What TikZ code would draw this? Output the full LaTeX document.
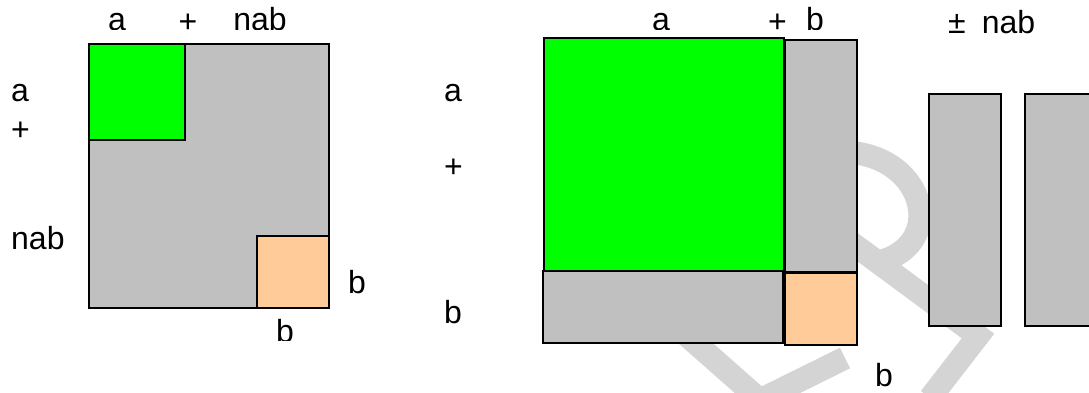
\documentclass[tikz,border=0pt]{standalone}
\usepackage{fontspec}
\setmainfont{Liberation Sans}
\definecolor{sqgreen}{HTML}{00FF00}
\definecolor{sqgray}{HTML}{C0C0C0}
\definecolor{sqorange}{HTML}{FFCC99}
\definecolor{wmgray}{HTML}{D4D4D4}
\tikzset{
  lbl/.style={font=\fontsize{32}{38}\selectfont, inner sep=0pt, anchor=base},
  lblw/.style={lbl, anchor=base west},
  piece/.style={draw=black, line width=2pt},
  wm/.style={draw=wmgray, line width=23pt},
}
\begin{document}
\begin{tikzpicture}[x=1pt,y=-1pt]
\useasboundingbox (0,0) rectangle (1089,392);
\clip (0,0) rectangle (1089,392);
% watermark
\draw[wm] (835,152) .. controls (925,148) and (950,245) .. (878,262);
\draw[wm, line join=miter] (845,238) -- (978,336) -- (930,398);
\draw[wm, line join=miter] (675,325) -- (760,400) -- (845,358);

% ---------- left figure ----------
\fill[sqgray] (89,44) rectangle (329,308);
\draw[line width=1.2pt] (89,44) rectangle (329,308);
\draw[line width=2pt] (329,44) -- (329,308) -- (89,308);
\draw[line width=2pt] (89,44) -- (89,62) (89,302) -- (89,308);
\draw[piece, fill=sqgreen] (89,44) rectangle (185,140);
\draw[piece, fill=sqorange] (257,236) rectangle (329,308);

\begin{scope}
\clip (0,0) rectangle (1089,29.5);
\node[lbl] (lta) at (117,30.5) {a};
\node[lbl] (ltn) at (260,30.5) {nab};
\node[lbl] (rta) at (661,30.5) {a};
\node[lbl] (rtb) at (815,30.5) {b};
\end{scope}
\node[lbl] (ltp) at (188,32) {+};
\node[lblw] (lla) at (11,101.5) {a};
\node[lblw] (llp) at (11,140.5) {+};
\node[lblw] (lln) at (11,249) {nab};
\node[lbl] (lrb) at (357,293) {b};
\begin{scope}
\clip (0,0) rectangle (1089,340);
\node[lbl] (lbb) at (285,342) {b};
\end{scope}

% ---------- right figure ----------
\draw[piece, fill=sqgreen] (544.3,38.3) rectangle (784.3,271);
\draw[piece, fill=sqgray] (785,40) rectangle (856.7,271.7);
\draw[piece, fill=sqgray] (543,270.7) rectangle (783.3,343.3);
\draw[piece, fill=sqorange] (785,273.3) rectangle (857.3,345);

\node[lbl] (rtp) at (777.5,32) {+};
\node[lblw] (rla) at (444,101.5) {a};
\node[lblw] (rlp) at (444,177) {+};
\node[lblw] (rlb) at (444,323) {b};
\node[lbl] (rbb) at (884,386) {b};

% ---------- +- nab ----------
\node[lbl] (pm) at (957,33) {±};
\node[lbl] (pmn) at (1008.5,33) {nab};
\draw[piece, fill=sqgray] (929,94) rectangle (1001,326);
\draw[piece, fill=sqgray] (1025,94) rectangle (1110,326);
\end{tikzpicture}
\end{document}
